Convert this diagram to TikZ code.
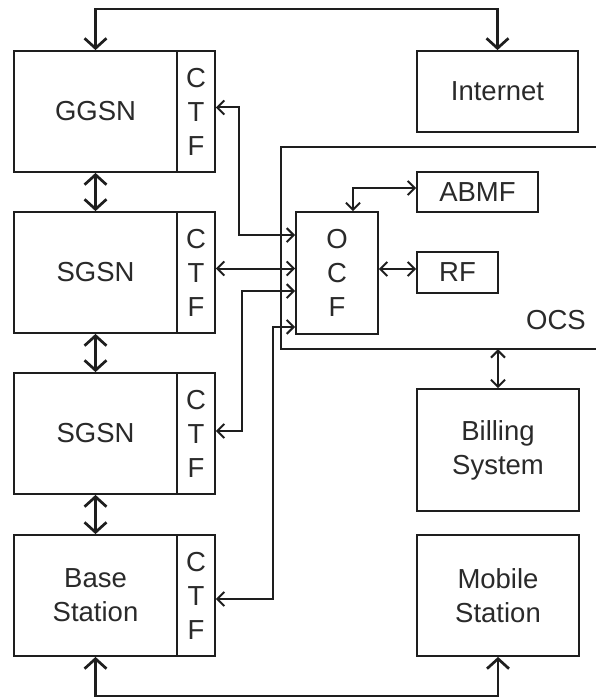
\documentclass[tikz,border=0pt]{standalone}
\usepackage{fontspec}
\setmainfont{Liberation Sans}
\usetikzlibrary{arrows.meta,fit}
\definecolor{ln}{HTML}{1E1E1E}
\definecolor{tx}{HTML}{2A2A2A}
\tikzset{
  box/.style={draw=ln,line width=1.8pt,rectangle,inner sep=0pt,align=center,
    text=tx,font=\fontsize{27.5}{34}\selectfont},
  bigconn/.style={draw=ln,line width=2.7pt,
    {Straight Barb[length=10pt,width=22pt]}-{Straight Barb[length=10pt,width=22pt]}},
  thinconn/.style={draw=ln,line width=2pt,
    {Straight Barb[length=7pt,width=14pt]}-{Straight Barb[length=7pt,width=14pt]}},
  lbl/.style={text=tx,font=\fontsize{27.5}{34}\selectfont,inner sep=0pt}
}
\begin{document}
\begin{tikzpicture}[x=1pt,y=-1pt]
\useasboundingbox[fill=white] (0,0) rectangle (595,698);
% left column
\node[box,minimum width=163pt,minimum height=121pt] (ggsn) at (95.5,111.5) {GGSN};
\node[box,minimum width=38pt,minimum height=121pt] (ggsnctf) at (196,111.5) {C\\T\\F};
\node[box,minimum width=163pt,minimum height=121pt] (sgsna) at (95.5,272.5) {SGSN};
\node[box,minimum width=38pt,minimum height=121pt] (sgsnactf) at (196,272.5) {C\\T\\F};
\node[box,minimum width=163pt,minimum height=121pt] (sgsnb) at (95.5,433.5) {SGSN};
\node[box,minimum width=38pt,minimum height=121pt] (sgsnbctf) at (196,433.5) {C\\T\\F};
\node[box,minimum width=163pt,minimum height=121pt] (bs) at (95.5,595.5) {Base\\Station};
\node[box,minimum width=38pt,minimum height=121pt] (bsctf) at (196,595.5) {C\\T\\F};
% right column
\node[box,minimum width=161pt,minimum height=81pt] (internet) at (497.5,91.5) {Internet};
\node[box,minimum width=121pt,minimum height=40pt] (abmf) at (477.5,192) {ABMF};
\node[box,minimum width=81pt,minimum height=41pt] (rf) at (457.5,272.5) {RF};
\node[box,minimum width=82pt,minimum height=122pt] (ocf) at (337,273) {O\\C\\F};
\node[box,minimum width=162pt,minimum height=122pt] (billing) at (498,450) {Billing\\System};
\node[box,minimum width=162pt,minimum height=121pt] (mobile) at (498,595.5) {Mobile\\Station};
% OCS frame
\coordinate (ocsnw) at (281,147);
\coordinate (ocsse) at (597,349);
\node[inner sep=0pt,fit=(ocsnw)(ocsse)] (ocs) {};
\draw[draw=ln,line width=1.8pt] (ocs.north east) -- (ocs.north west) -- (ocs.south west) -- (ocs.south east);
\node[lbl] (ocslbl) at (556,320) {OCS};
% thick connectors
\draw[bigconn] (ggsn.north) -- ++(0,-41) -| (internet.north);
\draw[bigconn] (bs.south) -- ++(0,39) -| (mobile.south);
\draw[bigconn] (ggsn.south) -- (sgsna.north);
\draw[bigconn] (sgsna.south) -- (sgsnb.north);
\draw[bigconn] (sgsnb.south) -- (bs.north);
% thin connectors
\draw[thinconn] ([yshift=4pt]ggsnctf.east) -- ++(23,0) |- ([yshift=-24pt]ocf.north west);
\draw[thinconn] ([yshift=4pt]sgsnactf.east) -- ([yshift=4pt]sgsnactf.east -| ocf.west);
\draw[thinconn] ([yshift=2.5pt]sgsnbctf.east) -- ++(26,0) |- ([yshift=-80pt]ocf.north west);
\draw[thinconn] ([yshift=-3.5pt]bsctf.east) -- ++(57,0) |- ([yshift=8pt]ocf.south west);
\draw[thinconn] ([xshift=16pt]ocf.north) |- ([yshift=4pt]abmf.west);
\draw[thinconn] ([yshift=4pt]ocf.east) -- ([yshift=4pt]ocf.east -| rf.west);
\draw[thinconn] (billing.north) -- (billing.north |- ocs.south);
\end{tikzpicture}
\end{document}
